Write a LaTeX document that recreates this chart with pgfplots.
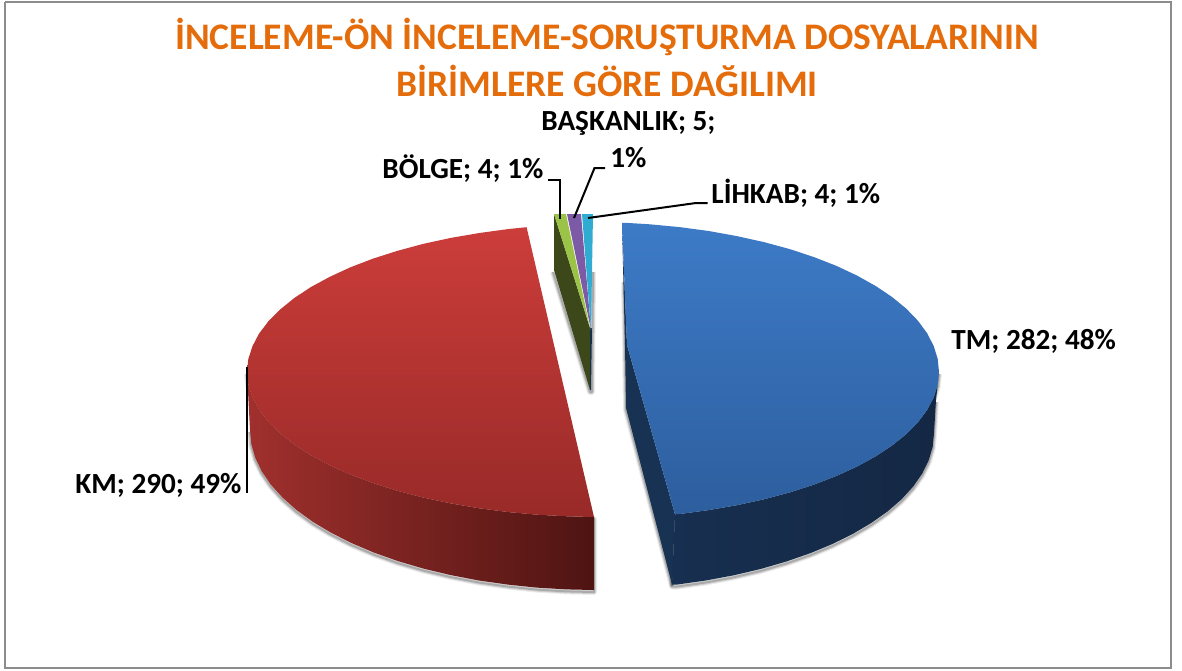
\documentclass[border=0pt]{standalone}
\usepackage{fontspec}
\setmainfont{Carlito}
\usepackage{pgfplots}
\usepackage{pgfplotstable}
\pgfplotsset{compat=1.18}
\definecolor{titleor}{RGB}{228,108,10}

% outlines, in pixels
\pgfplotstableread{
x y
939 372
937.7 384.8
933.7 397.5
927.1 410
917.9 422.3
906.2 434.1
892.1 445.5
875.7 456.3
857.1 466.5
836.5 475.9
814 484.6
789.8 492.4
764 499.3
736.9 505.2
708.7 510.1
679.6 514
675 514.3
672 584.5
676.8 584.6
705.7 580.5
733.6 575.3
760.5 569
786 561.6
810 553.3
832.4 544
852.8 533.9
871.2 523
887.5 511.5
901.5 499.4
913.1 486.7
922.2 473.6
928.7 460.3
932.7 446.7
934 433
936 400
}\blueside
\pgfplotstableread{
x y
622 223
625.6 222.8
649.8 224.3
679.6 227.1
708.7 231
736.9 236.1
764 242.1
789.8 249.1
814 257.1
836.5 265.9
857.1 275.6
875.7 286
892.1 297
906.2 308.6
917.9 320.7
927.1 333.2
933.7 346
937.7 358.9
939 372
937.7 384.8
933.7 397.5
927.1 410
917.9 422.3
906.2 434.1
892.1 445.5
875.7 456.3
857.1 466.5
836.5 475.9
814 484.6
789.8 492.4
764 499.3
736.9 505.2
708.7 510.1
679.6 514
675 514.3
627 345
}\bluetop
\pgfplotstableread{
x y
622 225
625 345
626 408
672 584.5
675 514.3
627 345
}\bluecut
\pgfplotstableread{
x y
247 372
248.3 384.6
252.4 397.2
259 409.5
268.3 421.6
280.1 433.3
294.3 444.5
310.8 455.2
329.6 465.2
350.4 474.5
373.1 483.1
397.5 490.8
423.5 497.6
450.8 503.4
479.3 508.3
508.6 512.1
538.7 514.8
569.2 516.4
594 517
594 590
566.8 589.4
536.7 587.6
507.2 584.5
478.3 580.4
450.4 575
423.5 568.6
398 561.1
374 552.6
351.6 543.1
331.2 532.8
312.8 521.8
296.5 510
282.5 497.6
270.9 484.7
261.8 471.4
255.3 457.8
251.3 443.9
250 430
}\redside
\pgfplotstableread{
x y
526.6 227.2
508.6 229
479.3 233
450.8 237.9
423.5 243.8
397.5 250.8
373.1 258.6
350.4 267.3
329.6 276.9
310.8 287.1
294.3 298
280.1 309.5
268.3 321.4
259 333.7
252.4 346.3
248.3 359.1
247 372
248.3 384.6
252.4 397.2
259 409.5
268.3 421.6
280.1 433.3
294.3 444.5
310.8 455.2
329.6 465.2
350.4 474.5
373.1 483.1
397.5 490.8
423.5 497.6
450.8 503.4
479.3 508.3
508.6 512.1
538.7 514.8
569.2 516.4
594 517
}\redtop
\pgfplotstableread{
x y
554 214
554 270
590 390
590 328
}\greenside
\pgfplotstableread{
x y
554 214
566 214
590 328
}\greentop
\pgfplotstableread{
x y
567 214
581 214
591 330
}\purpletop
\pgfplotstableread{
x y
582 214
593 214
591 330
}\cyantop
\pgfplotstableread{
x y
590 328
592 328
591 390
590 390
}\sliceedge
\pgfplotstableread{
x y
553 270
590 390
592 390
593 270
}\sliceshadow
\pgfplotstableread{
x y
624 280
626 408
672 584
}\cutshadow

\newcommand{\softshadow}[1]{%
  \addplot[draw=black,opacity=.07,line width=3pt,line join=round,yshift=-1pt] table {#1};
  \addplot[draw=black,opacity=.12,line width=2pt,line join=round,yshift=-1pt] table {#1};
  \addplot[draw=black,opacity=.18,line width=1pt,line join=round,yshift=-1pt] table {#1};
}

\begin{document}
\begin{tikzpicture}
\begin{axis}[
  width=591pt,height=335pt,scale only axis,
  xmin=0,xmax=1182,ymin=0,ymax=670,
  y dir=reverse,
  hide axis,
  clip=false,
  no markers,
  every axis plot/.append style={draw=none},
]
% keeps the page as large as the axis
\addplot[draw=none] coordinates {(0,0) (1182,670)};
% frame
\addplot[draw=black!45,line width=1pt] coordinates {(5,2) (1171,2) (1171,668) (5,668) (5,2)};

% shadows
\softshadow{\redside}
\softshadow{\blueside}
\softshadow{\sliceshadow}
\softshadow{\cutshadow}

% red slice
\addplot[left color={rgb,255:red,160;green,48;blue,45},middle color={rgb,255:red,125;green,34;blue,32},right color={rgb,255:red,78;green,20;blue,18}] table {\redside};
\addplot[top color={rgb,255:red,204;green,61;blue,58},bottom color={rgb,255:red,152;green,42;blue,40}] table {\redtop};

% blue slice
\addplot[fill={rgb,255:red,24;green,50;blue,84}] table {\bluecut};
\addplot[left color={rgb,255:red,23;green,47;blue,80},right color={rgb,255:red,20;green,40;blue,68}] table {\blueside};
\addplot[top color={rgb,255:red,61;green,123;blue,199},bottom color={rgb,255:red,45;green,94;blue,158}] table {\bluetop};

% small slices
\addplot[fill={rgb,255:red,60;green,72;blue,26}] table {\greenside};
\addplot[fill={rgb,255:red,22;green,48;blue,72}] table {\sliceedge};
\addplot[fill={rgb,255:red,155;green,195;blue,72}] table {\greentop};
\addplot[fill={rgb,255:red,125;green,90;blue,165}] table {\purpletop};
\addplot[fill={rgb,255:red,48;green,172;blue,210}] table {\cyantop};

% leader lines
\addplot[draw=black,line width=1pt] coordinates {(246.5,367) (246.5,493)};
\addplot[draw=black,line width=1pt] coordinates {(548,180) (560,180) (560,219)};
\addplot[draw=black,line width=1pt] coordinates {(605,168) (594.5,168) (574,218)};
\addplot[draw=black,line width=1pt] coordinates {(707.5,203) (696,203) (588,218)};

% title and labels
\node[anchor=base,font=\fontsize{18.75}{24}\selectfont\bfseries,text=titleor] at (axis cs:607,49) {İNCELEME-ÖN İNCELEME-SORUŞTURMA DOSYALARININ};
\node[anchor=base,font=\fontsize{18.75}{24}\selectfont\bfseries,text=titleor] at (axis cs:607,96) {BİRİMLERE GÖRE DAĞILIMI};
\node[anchor=base west,inner sep=0pt,font=\fontsize{14.6}{18}\selectfont\bfseries] at (axis cs:951,349) {TM; 282; 48\%};
\node[anchor=base west,inner sep=0pt,font=\fontsize{14.6}{18}\selectfont\bfseries] at (axis cs:75,493) {KM; 290; 49\%};
\node[anchor=base west,inner sep=0pt,font=\fontsize{14.6}{18}\selectfont\bfseries] at (axis cs:382,178) {BÖLGE; 4; 1\%};
\node[anchor=base west,inner sep=0pt,font=\fontsize{14.6}{18}\selectfont\bfseries] at (axis cs:541,130) {BAŞKANLIK; 5;};
\node[anchor=base west,inner sep=0pt,font=\fontsize{14.6}{18}\selectfont\bfseries] at (axis cs:610,167) {1\%};
\node[anchor=base west,inner sep=0pt,font=\fontsize{14.6}{18}\selectfont\bfseries] at (axis cs:711,203) {LİHKAB; 4; 1\%};
\end{axis}
\end{tikzpicture}
\end{document}
